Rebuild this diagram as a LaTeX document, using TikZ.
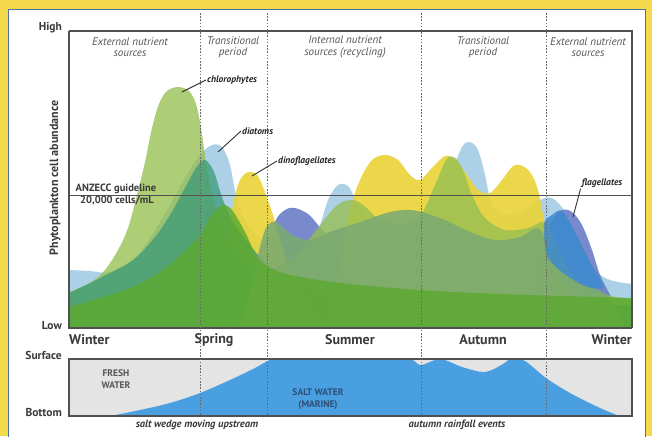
\documentclass[tikz,border=0pt]{standalone}
\usepackage{fontspec}
\setmainfont{PT Sans}
\definecolor{bgyellow}{HTML}{F6D84C}
\definecolor{panelblue}{HTML}{4A72A8}
\definecolor{axisgrey}{HTML}{505050}
\definecolor{dashgrey}{HTML}{6A6A6A}
\definecolor{textgrey}{HTML}{3A3A3A}
\definecolor{phasegrey}{HTML}{555555}
\definecolor{diatomblue}{HTML}{A4CCE4}
\definecolor{flagpurple}{HTML}{6A7EC6}
\definecolor{flagblue}{HTML}{3C8AD0}
\definecolor{dinoyellow}{HTML}{EAD43A}
\definecolor{chlorolive}{HTML}{96BF52}
\definecolor{tealgreen}{HTML}{3A9A78}
\definecolor{sagegreen}{HTML}{7BAA70}
\definecolor{basegreen}{HTML}{5CA92F}
\definecolor{saltblue}{HTML}{4A9FE0}
\definecolor{freshgrey}{HTML}{E4E4E4}
\definecolor{marinetext}{HTML}{2E4E78}
\tikzset{
  frame/.style={draw=axisgrey, line width=1.1pt},
  seasonline/.style={draw=dashgrey, line width=.8pt, dash pattern=on 1.6pt off 1.6pt},
  season/.style={font=\bfseries\fontsize{14}{14}\selectfont, text=textgrey, inner sep=0pt},
  level/.style={font=\bfseries\fontsize{11.5}{11.5}\selectfont, text=textgrey, inner sep=0pt, anchor=east},
  phase/.style={font=\itshape\fontsize{11}{11.5}\selectfont, text=phasegrey, align=center, inner sep=0pt},
  species/.style={font=\bfseries\itshape\fontsize{9.5}{9.5}\selectfont, text=black!85, inner sep=1pt},
  leader/.style={draw=black!80, line width=.9pt},
  guide/.style={font=\bfseries\fontsize{10.5}{10.5}\selectfont, text=textgrey, inner sep=0pt},
  water/.style={font=\bfseries\fontsize{9.5}{12}\selectfont, align=center, inner sep=0pt},
  wedge/.style={font=\bfseries\itshape\fontsize{10.5}{10.5}\selectfont, text=textgrey, inner sep=0pt}
}
\begin{document}
\begin{tikzpicture}[x=1pt,y=-1pt]
\useasboundingbox (0,0) rectangle (652,436);
\fill[bgyellow] (0,0) rectangle (652,436);
\filldraw[fill=white, draw=panelblue, line width=1pt] (8,10) rectangle (645,446);

\begin{scope}
  \clip (69,31) rectangle (632,328);
  \fill[diatomblue, opacity=.9] (69,328) -- plot[smooth, tension=.55] coordinates {
    (69,270) (90,271) (110,272) (135,258) (160,222) (185,178) (200,155) (212,145) (222,147)
    (230,165) (236,195) (245,220) (262,240) (285,250) (305,245) (318,230) (328,200)
    (338,185) (348,186) (356,200) (370,222) (400,225) (430,210) (450,175) (462,147)
    (470,142) (478,150) (485,175) (492,205) (505,215) (525,210) (540,200) (552,198)
    (565,212) (580,245) (595,270) (610,280) (632,284)} -- (632,328) -- cycle;
  \fill[flagpurple, opacity=.9] (240,328) -- plot[smooth, tension=.55] coordinates {
    (240,328) (255,308) (265,260) (275,222) (285,210) (295,208) (308,214) (318,225)
    (330,240) (345,275) (360,310) (380,328)} -- cycle;
  \fill[flagpurple, opacity=.9] (520,328) -- plot[smooth, tension=.55] coordinates {
    (520,328) (535,290) (545,238) (552,220) (562,210) (572,212) (582,225) (592,250)
    (600,275) (610,295) (620,318) (632,328)} -- cycle;
  \fill[dinoyellow, opacity=.92] (200,328) -- plot[smooth, tension=.55] coordinates {
    (200,328) (215,318) (225,270) (232,210) (240,180) (249,172) (258,176) (266,195)
    (273,215) (280,240) (290,270) (305,300) (320,320) (340,328)} -- cycle;
  \fill[dinoyellow, opacity=.92] (330,328) -- plot[smooth, tension=.55] coordinates {
    (330,328) (340,260) (350,210) (360,180) (372,160) (385,155) (398,160) (410,175)
    (420,180) (432,168) (445,156) (455,160) (467,175) (478,190) (490,193) (502,180)
    (512,167) (520,165) (530,172) (538,190) (545,225) (555,265) (570,295) (600,310)
    (632,315)} -- (632,328) -- cycle;
  \fill[chlorolive, opacity=.78] (69,328) -- plot[smooth, tension=.55] coordinates {
    (69,292) (90,283) (105,270) (118,250) (128,228) (137,195) (145,162) (152,128)
    (159,104) (167,91) (178,87) (189,91) (196,104) (201,128) (206,162) (213,198)
    (222,228) (238,255) (255,268) (275,268) (295,255) (315,232) (335,207) (350,200)
    (362,204) (378,218) (400,224) (420,216) (435,185) (446,160) (454,157) (462,168)
    (472,195) (485,218) (505,230) (528,228) (545,222) (555,240) (570,270) (590,290)
    (632,300)} -- (632,328) -- cycle;
  \fill[tealgreen, opacity=.75] (69,328) -- plot[smooth, tension=.55] coordinates {
    (69,293) (100,278) (133,260) (155,237) (170,215) (185,188) (196,168) (205,160)
    (214,172) (223,200) (235,225) (250,245) (265,262) (290,280) (330,294) (400,302)
    (632,306)} -- (632,328) -- cycle;
  \fill[sagegreen, opacity=.88] (240,328) -- plot[smooth, tension=.55] coordinates {
    (240,328) (250,290) (258,255) (266,228) (276,222) (292,235) (310,240) (330,232)
    (360,222) (390,212) (410,210) (425,213) (445,220) (470,232) (495,240) (520,237)
    (538,228) (548,245) (560,268) (575,280) (595,288) (612,300) (625,328)} -- cycle;
  \fill[flagblue, opacity=.85] plot[smooth cycle, tension=.5] coordinates {
    (544,224) (552,215) (562,211) (575,232) (590,262) (603,287) (585,286) (562,272)
    (547,255)};
  \fill[basegreen, opacity=.82] (69,328) -- plot[smooth, tension=.55] coordinates {
    (69,307) (100,298) (133,287) (160,272) (183,253) (200,235) (212,215) (222,205)
    (232,210) (245,232) (258,258) (275,270) (300,277) (350,284) (420,290) (500,294)
    (632,298)} -- (632,328) -- cycle;
\end{scope}

\begin{scope}
  \clip (69,359) rectangle (632,416);
  \fill[freshgrey] (69,359) rectangle (632,416);
  \fill[saltblue] (110,416) -- plot[smooth, tension=.55] coordinates {
    (110,416) (140,410) (170,403) (200,393) (230,380) (255,368) (270,360) (285,358)
    (340,358) (405,358) (420,365) (435,360) (445,360) (462,367) (485,372) (503,364)
    (512,358) (525,361) (546,378) (570,393) (600,408) (622,417)} -- cycle;
\end{scope}

\draw[frame] (69,31) -- (632,31) -- (632,328);
\draw[frame] (69,31) -- (69,328) -- (632,328);
\draw[frame] (69,359) rectangle (632,416);
\draw[axisgrey, line width=1pt] (69,195) -- (632,195);

\foreach \x/\n in {200/a, 267/b, 421/c, 546/d} {
  \coordinate (top\n) at (\x,13);
  \coordinate (bot\n) at (\x,416);
  \draw[seasonline] (top\n) -- (bot\n);
}

\node[level] (high) at (62,28) {High};
\node[level] (low) at (62,326) {Low};
\node[level] (surface) at (62,355) {Surface};
\node[level] (bottom) at (62,412) {Bottom};
\node[rotate=90, font=\bfseries\fontsize{12}{12}\selectfont, text=textgrey] (ylab) at (55,178) {Phytoplankton cell abundance};

\node[phase] (ext1) at (130,47) {External nutrient\\sources};
\node[phase] (trans1) at (233,47) {Transitional\\period};
\node[phase] (int) at (345,47) {Internal nutrient\\sources (recycling)};
\node[phase] (trans2) at (483,47) {Transitional\\period};
\node[phase] (ext2) at (588,47) {External nutrient\\sources};

\node[season, anchor=west] (winter1) at (69,340) {Winter};
\node[season] (spring) at (214,340) {Spring};
\node[season] (summer) at (350,340) {Summer};
\node[season] (autumn) at (483,340) {Autumn};
\node[season, anchor=east] (winter2) at (632,340) {Winter};

\node[guide] (anz) at (116,189) {ANZECC guideline};
\node[guide] (anzval) at (117,201) {20,000 cells/mL};

\node[species, anchor=west] (chl) at (206,80) {chlorophytes};
\node[species, anchor=west] (dia) at (241,131) {diatoms};
\node[species, anchor=west] (dino) at (277,161) {dinoflagellates};
\node[species] (flag) at (602,183) {flagellates};
\coordinate (chlpk) at (182,92);
\coordinate (diapk) at (218,152);
\coordinate (dinopk) at (252,176);
\coordinate (flagpk) at (573,217);
\draw[leader] (chlpk) -- (chl.west);
\draw[leader] (diapk) -- (dia.west);
\draw[leader] (dinopk) -- (dino.west);
\draw[leader] (flagpk) -- (flag.south west);

\node[water, text=phasegrey] (fresh) at (116,379) {FRESH\\WATER};
\node[water, text=marinetext] (salt) at (318,399) {SALT WATER\\(MARINE)};
\node[wedge] (wedgetxt) at (197,425) {salt wedge moving upstream};
\node[wedge] (rain) at (457,425) {autumn rainfall events};
\end{tikzpicture}
\end{document}
